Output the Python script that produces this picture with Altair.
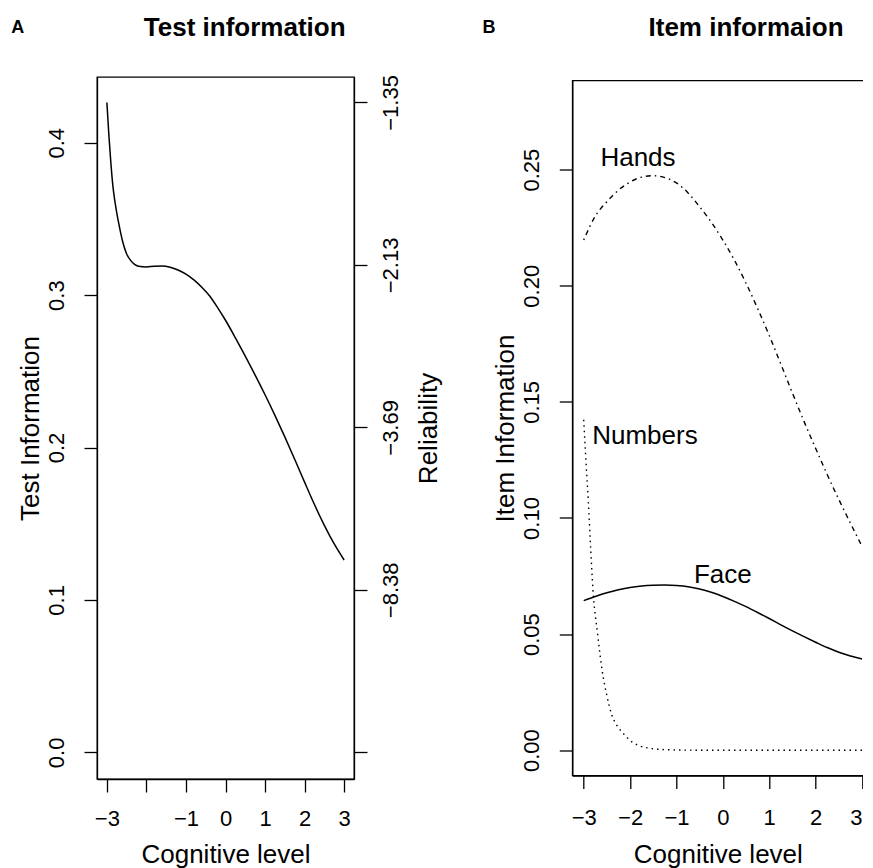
import altair as alt
import pandas as pd

FONT = "Liberation Sans"

# ---------------- data ----------------
theta_test = [-3.0, -2.95, -2.9, -2.85, -2.8, -2.75, -2.7, -2.6, -2.5, -2.4, -2.3, -2.2,
              -2.0, -1.8, -1.6, -1.4, -1.2, -1.0, -0.8, -0.6, -0.4, -0.2, 0.0, 0.25,
              0.5, 0.75, 1.0, 1.25, 1.5, 1.75, 2.0, 2.25, 2.5, 2.75, 3.0]
info_test = [0.4264, 0.405, 0.387, 0.372, 0.362, 0.354, 0.347, 0.335, 0.327, 0.3228, 0.3202, 0.3190,
             0.3185, 0.3190, 0.3191, 0.3183, 0.3165, 0.3138, 0.3100, 0.3052, 0.2994, 0.2918, 0.2835, 0.2720,
             0.2600, 0.2475, 0.2346, 0.2211, 0.2070, 0.1923, 0.1773, 0.1626, 0.1489, 0.1367, 0.1262]

theta_item = [-3.0, -2.75, -2.5, -2.25, -2.0, -1.75, -1.5, -1.25, -1.0, -0.75, -0.5, -0.25, 0.0,
              0.25, 0.5, 0.75, 1.0, 1.25, 1.5, 1.75, 2.0, 2.25, 2.5, 2.75, 3.0]
info_face = [0.0644, 0.0662, 0.0678, 0.0691, 0.0701, 0.0707, 0.0710, 0.0711, 0.0709, 0.0704, 0.0694,
             0.0680, 0.0662, 0.0641, 0.0618, 0.0593, 0.0567, 0.0540, 0.0514, 0.0489, 0.0465, 0.0442,
             0.0422, 0.0406, 0.0393]
info_hands = [0.2197, 0.2300, 0.2362, 0.2412, 0.2447, 0.2468, 0.2474, 0.2466, 0.2443, 0.2400, 0.2340,
              0.2274, 0.2197, 0.2110, 0.2011, 0.1902, 0.1786, 0.1663, 0.1538, 0.1416, 0.1300, 0.1187,
              0.1080, 0.0978, 0.0878]
theta_numbers = [-3.0, -2.95, -2.9, -2.85, -2.8, -2.7, -2.6, -2.5, -2.4, -2.3, -2.2, -2.1, -2.0,
                 -1.9, -1.8, -1.6, -1.4, -1.2, -1.0, -0.5, 0.0, 0.5, 1.0, 1.5, 2.0, 2.5, 3.0]
info_numbers = [0.1423, 0.1240, 0.1070, 0.0870, 0.0690, 0.0500, 0.0340, 0.0235, 0.0155, 0.0112, 0.0084,
                0.0062, 0.0042, 0.0028, 0.0019, 0.0009, 0.0004, 0.0002, 0.0001, 0.0, 0.0, 0.0, 0.0,
                0.0, 0.0, 0.0, 0.0]

x_ticks = [-3, -2, -1, 0, 1, 2, 3]
a_hidden_x_labels = [-2]
ya_ticks = [0.0, 0.1, 0.2, 0.3, 0.4]
yb_ticks = [0.0, 0.05, 0.10, 0.15, 0.20, 0.25]
rel_tick_values = [0.0, 0.1066, 0.2132, 0.3198, 0.4264]
rel_tick_labels = ["", "−8.38", "−3.69", "−2.13", "−1.35"]

label_names = ["Hands", "Numbers", "Face"]
label_theta = [-1.83, -1.68, 0.0]
label_info = [0.2514, 0.1319, 0.0720]

df_test = pd.DataFrame({"theta": theta_test, "info": info_test})
df_face = pd.DataFrame({"theta": theta_item, "info": info_face})
df_hands = pd.DataFrame({"theta": theta_item, "info": info_hands})
df_numbers = pd.DataFrame({"theta": theta_numbers, "info": info_numbers})
df_labels = pd.DataFrame({"name": label_names, "theta": label_theta, "info": label_info})

# ---------------- helpers ----------------
def js_num_list(vals):
    return "[" + ",".join(repr(v) for v in vals) + "]"

def js_str_list(vals):
    return "[" + ",".join("'" + s + "'" for s in vals) + "]"

MINUS = "replace(datum.label, '-', '−')"
AX = dict(domainColor="black", tickColor="black", labelColor="black", titleColor="black",
          domainWidth=1.3, tickWidth=1.3, tickSize=13, labelFontSize=22, titleFontSize=26,
          labelFont=FONT, titleFont=FONT, titleFontWeight="normal", grid=False)

WA, HA = 257, 702
WB, HB = 304, 695

# ---------------- panel A ----------------
xa_scale = alt.Scale(domain=[-3.25, 3.25], nice=False, zero=False)
xa = alt.X("theta:Q", scale=xa_scale,
           axis=alt.Axis(values=x_ticks,
                         labelExpr=f"indexof({js_num_list(a_hidden_x_labels)}, datum.value) >= 0 ? '' : {MINUS}",
                         labelPadding=16, title="Cognitive level",
                         titleX=WA / 2, titleY=75, titleAlign="center", titleBaseline="middle", **AX))
ya_scale = alt.Scale(domain=[-0.0175, 0.4431], nice=False, zero=False)

a_line = alt.Chart(df_test).mark_line(color="black", strokeWidth=1.5, interpolate="monotone").encode(
    x=xa,
    y=alt.Y("info:Q", scale=ya_scale,
            axis=alt.Axis(values=ya_ticks, format=".1f", labelAngle=270, labelAlign="center",
                          labelBaseline="bottom", labelPadding=16, title="Test Information",
                          titleAngle=270, titleX=-67, titleY=HA / 2, titleAlign="center",
                          titleBaseline="middle", **AX)),
)
a_right = alt.Chart(df_test).mark_line(opacity=0).encode(
    x=alt.X("theta:Q", scale=xa_scale),
    y=alt.Y("info:Q", scale=ya_scale,
            axis=alt.Axis(orient="right", values=rel_tick_values,
                          labelExpr=f"{js_str_list(rel_tick_labels)}[indexof({js_num_list(rel_tick_values)}, datum.value)]",
                          labelAngle=270, labelAlign="center", labelBaseline="top", labelPadding=13,
                          title="Reliability", titleAngle=270, titleX=74, titleY=HA / 2,
                          titleAlign="center", titleBaseline="middle", **AX)),
)
a_title = alt.Chart(pd.DataFrame({"t": ["Test information"]})).mark_text(
    font=FONT, fontSize=26, fontWeight="bold", align="center", baseline="middle", color="black"
).encode(text="t:N", x=alt.value(147.7), y=alt.value(-49))
a_letter = alt.Chart(pd.DataFrame({"t": ["A"]})).mark_text(
    font=FONT, fontSize=18, fontWeight="bold", align="center", baseline="middle", color="black"
).encode(text="t:N", x=alt.value(-79.3), y=alt.value(-49))

panel_a = alt.layer(a_line, a_right, a_title, a_letter).resolve_scale(y="independent").properties(
    width=WA, height=HA)

# ---------------- panel B ----------------
# tick 3 lands just inside the right edge of the page; the frame itself runs off the picture
xb_scale = alt.Scale(domain=[-3.2458, 3.3084], nice=False, zero=False)
xb = alt.X("theta:Q", scale=xb_scale,
           axis=alt.Axis(values=x_ticks, labelExpr=MINUS, labelPadding=19, title="Cognitive level",
                         labelAlign={"condition": {"test": "datum.value === 3", "value": "right"},
                                     "value": "center"},
                         titleX=145.5, titleY=78.5, titleAlign="center", titleBaseline="middle", **AX))
yb = alt.Y("info:Q", scale=alt.Scale(domain=[-0.0109, 0.2884], nice=False, zero=False),
           axis=alt.Axis(values=yb_ticks, format=".2f", labelAngle=270, labelAlign="center",
                         labelBaseline="bottom", labelPadding=16, title="Item Information",
                         titleAngle=270, titleX=-67, titleY=HB / 2, titleAlign="center",
                         titleBaseline="middle", **AX))

b_face = alt.Chart(df_face).mark_line(color="black", strokeWidth=1.5, interpolate="monotone").encode(x=xb, y=yb)
b_hands = alt.Chart(df_hands).mark_line(color="black", strokeWidth=1.4, strokeDash=[1.5, 4, 5, 4],
                                        interpolate="monotone").encode(x=xb, y=yb)
b_numbers = alt.Chart(df_numbers).mark_line(color="black", strokeWidth=1.4, strokeDash=[1.5, 4],
                                            interpolate="monotone").encode(x=xb, y=yb)
b_labels = alt.Chart(df_labels).mark_text(
    font=FONT, fontSize=26, align="center", baseline="alphabetic", color="black"
).encode(x=alt.X("theta:Q", scale=xb_scale), y=alt.Y("info:Q"), text="name:N")
b_title = alt.Chart(pd.DataFrame({"t": ["Item informaion"]})).mark_text(
    font=FONT, fontSize=26, fontWeight="bold", align="center", baseline="middle", color="black"
).encode(text="t:N", x=alt.value(173.7), y=alt.value(-52.5))
b_letter = alt.Chart(pd.DataFrame({"t": ["B"]})).mark_text(
    font=FONT, fontSize=18, fontWeight="bold", align="center", baseline="middle", color="black"
).encode(text="t:N", x=alt.value(-83.3), y=alt.value(-52.5))

panel_b = alt.layer(b_face, b_hands, b_numbers, b_labels, b_title, b_letter).properties(width=WB, height=HB)

# negative right padding: the right edge of panel B runs off the picture, as in the reference
chart = alt.hconcat(panel_a, panel_b, spacing=218.3, bounds="flush", center=True).properties(
    padding={"left": 2, "top": 6, "right": -14, "bottom": 0},
    background="white",
).configure_view(stroke="black", strokeWidth=1.3)

chart.save("out.html", embed_options={"renderer": "svg", "actions": False})
